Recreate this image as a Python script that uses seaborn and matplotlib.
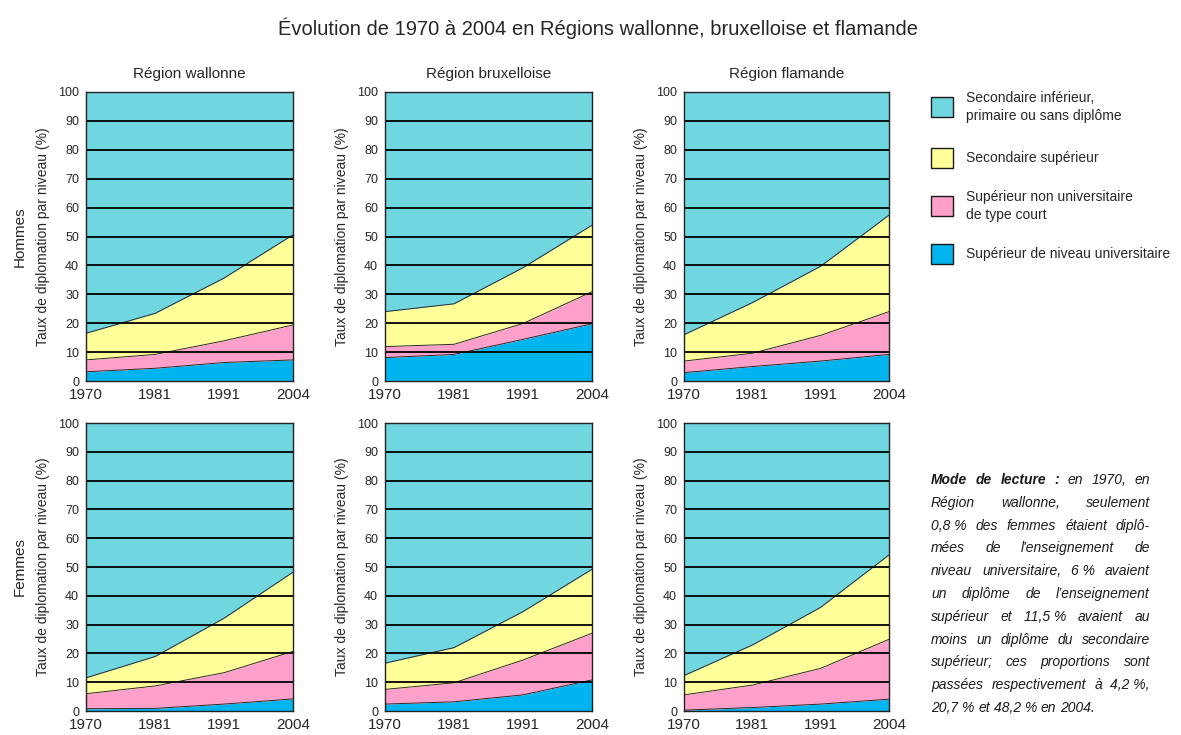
import matplotlib
matplotlib.use("Agg")
import matplotlib.pyplot as plt
from matplotlib import font_manager
from matplotlib.patches import Rectangle
import seaborn as sns
import pandas as pd

# ---------------------------------------------------------------------------
# Data: cumulative share (%) of the population having at least a given level
# ---------------------------------------------------------------------------
years = ["1970", "1981", "1991", "2004"]
regions = ["Région wallonne", "Région bruxelloise", "Région flamande"]
sexes = ["Hommes", "Femmes"]
levels = [
    "Secondaire inférieur,\nprimaire ou sans diplôme",
    "Secondaire supérieur",
    "Supérieur non universitaire\nde type court",
    "Supérieur de niveau universitaire",
]

# Hommes
wal_h_univ = [3.2, 4.4, 6.4, 7.3]
wal_h_sup = [7.3, 9.2, 13.9, 19.4]
wal_h_sec = [16.5, 23.4, 35.6, 50.6]

bru_h_univ = [8.1, 9.2, 14.4, 19.8]
bru_h_sup = [11.9, 12.7, 19.9, 30.9]
bru_h_sec = [24.0, 26.7, 39.2, 53.9]

fla_h_univ = [2.9, 5.0, 6.9, 9.2]
fla_h_sup = [6.9, 9.6, 15.8, 24.0]
fla_h_sec = [16.0, 27.1, 39.7, 57.4]

# Femmes
wal_f_univ = [0.8, 0.9, 2.4, 4.2]
wal_f_sup = [6.0, 8.7, 13.3, 20.7]
wal_f_sec = [11.5, 18.9, 32.2, 48.2]

bru_f_univ = [2.4, 3.2, 5.6, 10.8]
bru_f_sup = [7.5, 9.8, 17.7, 27.0]
bru_f_sec = [16.6, 22.0, 34.5, 49.2]

fla_f_univ = [0.3, 1.2, 2.4, 4.1]
fla_f_sup = [5.6, 9.0, 14.8, 24.9]
fla_f_sec = [12.3, 22.9, 36.0, 54.2]

panels = {
    ("Hommes", "Région wallonne"): (wal_h_univ, wal_h_sup, wal_h_sec),
    ("Hommes", "Région bruxelloise"): (bru_h_univ, bru_h_sup, bru_h_sec),
    ("Hommes", "Région flamande"): (fla_h_univ, fla_h_sup, fla_h_sec),
    ("Femmes", "Région wallonne"): (wal_f_univ, wal_f_sup, wal_f_sec),
    ("Femmes", "Région bruxelloise"): (bru_f_univ, bru_f_sup, bru_f_sec),
    ("Femmes", "Région flamande"): (fla_f_univ, fla_f_sup, fla_f_sec),
}

reading_note = [
    "Mode de lecture : en 1970, en",
    "Région wallonne, seulement",
    "0,8\u00a0% des femmes étaient diplô-",
    "mées de l'enseignement de",
    "niveau universitaire, 6\u00a0% avaient",
    "un diplôme de l’enseignement",
    "supérieur et 11,5\u00a0% avaient au",
    "moins un diplôme du secondaire",
    "supérieur; ces proportions sont",
    "passées respectivement à 4,2\u00a0%,",
    "20,7\u00a0% et 48,2\u00a0% en 2004.",
]
bold_words = 4  # "Mode de lecture :"

# colours, top level first
col_cyan = "#70d7e1"
col_yellow = "#ffff99"
col_pink = "#ffa0cb"
col_blue = "#00b4ef"
level_colors = [col_cyan, col_yellow, col_pink, col_blue]

# ---------------------------------------------------------------------------
sns.set_theme(style="white")
names = {f.name for f in font_manager.fontManager.ttflist}
narrow = "Liberation Sans Narrow" if "Liberation Sans Narrow" in names else "Liberation Sans"
plt.rcParams["font.family"] = [narrow, "DejaVu Sans"]

W, H = 1181, 735
fig = plt.figure(figsize=(W / 100, H / 100), dpi=100)
fig.patch.set_facecolor("white")


def fx(px):
    return px / W


def fy(py):
    return 1 - py / H


col_x = [(86, 293), (385, 592), (684, 889)]
row_y = [(92, 381), (423, 711)]

for r, sex in enumerate(sexes):
    for c, region in enumerate(regions):
        x0, x1 = col_x[c]
        y0, y1 = row_y[r]
        ax = fig.add_axes([fx(x0), fy(y1), fx(x1 - x0), (y1 - y0) / H])
        univ, sup, sec = panels[(sex, region)]
        df = pd.DataFrame({
            "annee": years * 3,
            "valeur": univ + sup + sec,
            "limite": ["univ"] * 4 + ["sup"] * 4 + ["sec"] * 4,
        })
        pos = list(range(len(years)))
        ax.fill_between(pos, 0, univ, color=col_blue, lw=0, zorder=1)
        ax.fill_between(pos, univ, sup, color=col_pink, lw=0, zorder=1)
        ax.fill_between(pos, sup, sec, color=col_yellow, lw=0, zorder=1)
        ax.fill_between(pos, sec, 100, color=col_cyan, lw=0, zorder=1)
        sns.lineplot(data=df, x="annee", y="valeur", units="limite",
                     estimator=None, color="#2a2a2a", lw=0.7, ax=ax,
                     zorder=2, legend=False)
        for g in range(10, 100, 10):
            ax.axhline(g, color="black", lw=1.3, zorder=3)
        ax.set_xlim(0, 3)
        ax.set_ylim(0, 100)
        ax.set_yticks(range(0, 101, 10))
        ax.set_xticks(pos)
        ax.set_xticklabels(years, fontsize=11)
        ax.tick_params(axis="y", labelsize=9, length=0, pad=5)
        ax.tick_params(axis="x", length=0, pad=5)
        ax.set_xlabel("")
        ax.set_ylabel("Taux de diplomation par niveau (%)", fontsize=10, labelpad=6)
        for s in ax.spines.values():
            s.set_color("#222222")
            s.set_linewidth(1.0)
            s.set_zorder(4)
        if r == 0:
            ax.set_title(region, fontsize=11, pad=10)
    fig.text(fx(20), fy((row_y[r][0] + row_y[r][1]) / 2), sex, rotation=90,
             ha="center", va="center", fontsize=11)

fig.text(fx(598), fy(28), "Évolution de 1970 à 2004 en Régions wallonne, bruxelloise et flamande",
         ha="center", va="center", fontsize=14.5)

# legend keys
key_y = [107, 158, 206, 254]
for lab, colr, ky in zip(levels, level_colors, key_y):
    fig.patches.append(Rectangle((fx(931), fy(ky + 10)), fx(22), 20 / H,
                                 transform=fig.transFigure, facecolor=colr,
                                 edgecolor="#1a1a1a", lw=1.0))
    fig.text(fx(966), fy(ky), lab, ha="left", va="center", fontsize=10,
             linespacing=1.35)

# justified reading note
renderer = fig.canvas.get_renderer()
left, right = 931, 1150
line_y0, line_dy = 480, 22.8
word_index = 0
for i, line in enumerate(reading_note):
    words = line.split(" ")
    arts = []
    for w in words:
        weight = "bold" if word_index < bold_words else "normal"
        word_index += 1
        arts.append(fig.text(0, 0, w, fontsize=10, style="italic", weight=weight,
                             family=["Liberation Sans", "DejaVu Sans"],
                             ha="left", va="center", color="#1a1a1a"))
    widths = [a.get_window_extent(renderer).width for a in arts]
    if i < len(reading_note) - 1 and len(arts) > 1:
        gap = (right - left - sum(widths)) / (len(arts) - 1)
    else:
        gap = 3.8
    xx = left
    for a, wd in zip(arts, widths):
        a.set_position((fx(xx), fy(line_y0 + i * line_dy)))
        xx += wd + gap

fig.savefig("out.png", dpi=100)
